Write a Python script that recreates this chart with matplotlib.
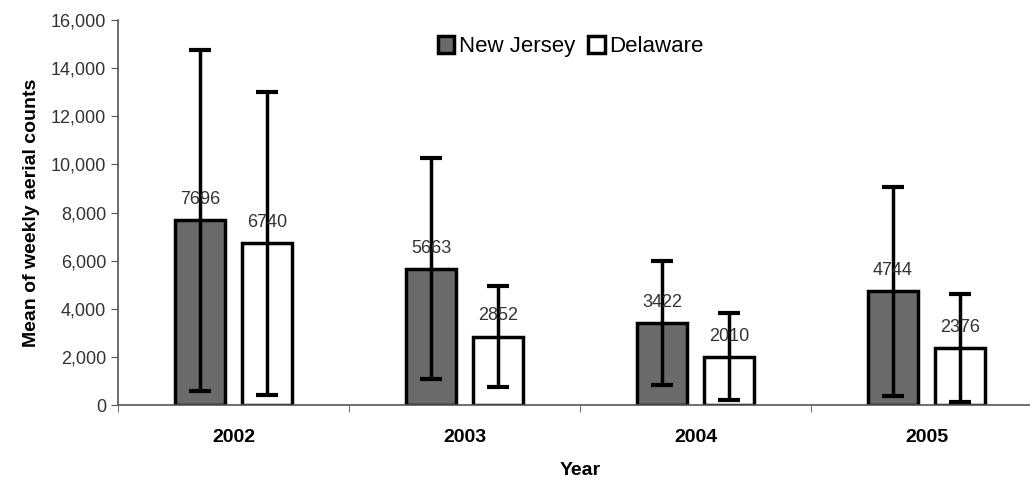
import numpy as np
import matplotlib.pyplot as plt
from matplotlib.ticker import FuncFormatter, FixedLocator

years = ["2002", "2003", "2004", "2005"]
new_jersey = [7696, 5663, 3422, 4744]
delaware = [6740, 2852, 2010, 2376]
# error bar ends (low, high)
nj_low = [580, 1080, 830, 374]
nj_high = [14750, 10250, 5985, 9060]
de_low = [415, 750, 208, 125]
de_high = [13010, 4946, 3824, 4613]

plt.rcParams['font.family'] = ['Liberation Sans', 'DejaVu Sans']

fig = plt.figure(figsize=(10.3, 4.87), dpi=100)
ax = fig.add_axes([0.1146, 0.168, 0.897, 0.791])

x = np.arange(len(years))
w = 0.215
off = 0.145

nj_err = [np.array(new_jersey) - nj_low, np.array(nj_high) - new_jersey]
de_err = [np.array(delaware) - de_low, np.array(de_high) - delaware]

ax.bar(x - off, new_jersey, w, color="#6a6a6a", edgecolor="black", linewidth=2.5,
       label="New Jersey", yerr=nj_err, capsize=8,
       error_kw=dict(elinewidth=2.5, capthick=3, ecolor="black"))
ax.bar(x + off, delaware, w, color="white", edgecolor="black", linewidth=2.5,
       label="Delaware", yerr=de_err, capsize=8,
       error_kw=dict(elinewidth=2.5, capthick=3, ecolor="black"))

for xi, v in zip(x - off, new_jersey):
    ax.text(xi, v + 500, str(v), ha="center", va="bottom", fontsize=13, color="#333333")
for xi, v in zip(x + off, delaware):
    ax.text(xi, v + 500, str(v), ha="center", va="bottom", fontsize=13, color="#333333")

ax.set_xlim(-0.5, 3.5)
ax.set_ylim(0, 16000)
ax.set_yticks(range(0, 16001, 2000))
ax.yaxis.set_major_formatter(FuncFormatter(lambda v, p: f"{int(v):,}"))
ax.tick_params(axis="y", labelsize=13, length=5, color="#555555", labelcolor="#333333")

ax.set_xticks(x)
ax.set_xticklabels(years, fontsize=14, fontweight="bold")
ax.tick_params(axis="x", length=0, pad=17)
ax.xaxis.set_minor_locator(FixedLocator([-0.5, 0.5, 1.5, 2.5]))
ax.tick_params(axis="x", which="minor", length=5, color="#555555")

for s in ["top", "right"]:
    ax.spines[s].set_visible(False)
for s in ["left", "bottom"]:
    ax.spines[s].set_color("#555555")
    ax.spines[s].set_linewidth(1.2)

ax.set_ylabel("Mean of weekly aerial counts", fontsize=14, fontweight="bold", labelpad=8)
ax.set_xlabel("Year", fontsize=14, fontweight="bold", labelpad=12)

ax.legend(loc="upper center", bbox_to_anchor=(0.49, 1.01), ncol=2, frameon=False,
          fontsize=16, handlelength=0.75, handleheight=0.75, handletextpad=0.2,
          columnspacing=0.6)

fig.savefig("out.png", dpi=100)
